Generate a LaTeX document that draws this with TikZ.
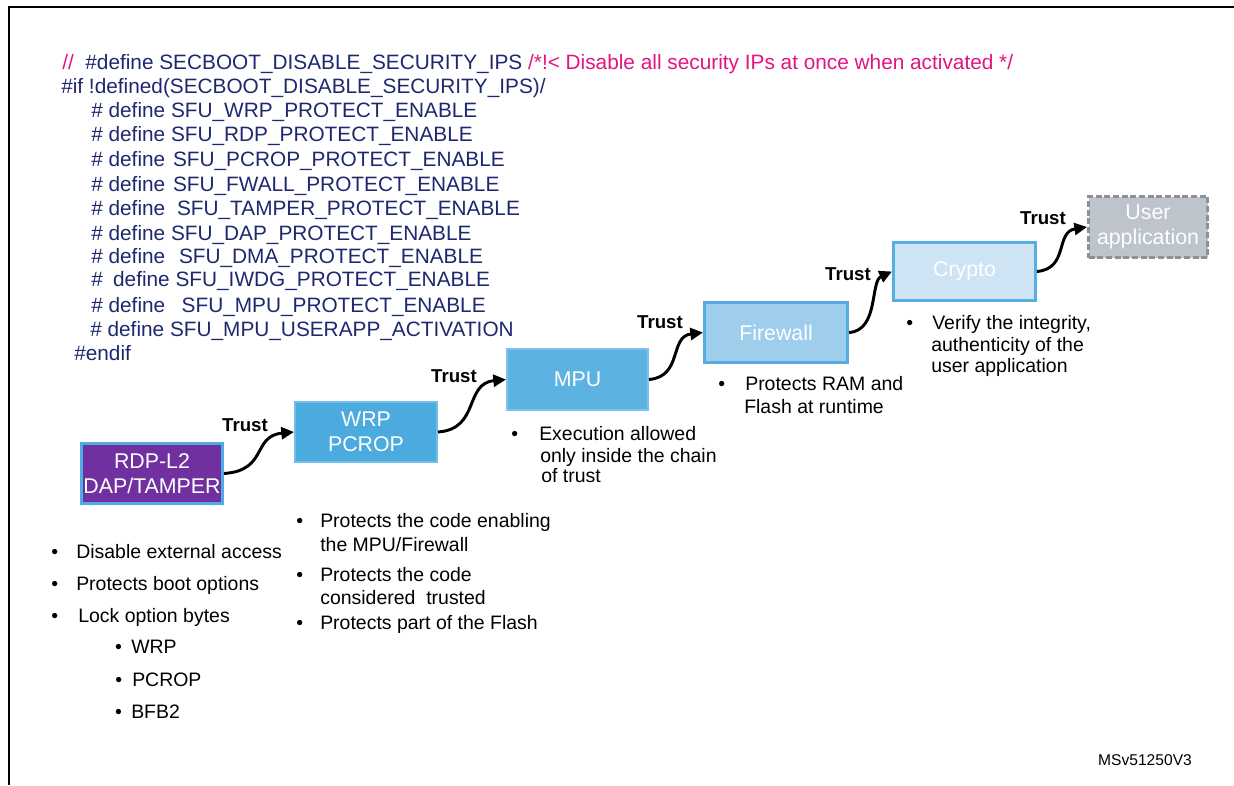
\documentclass[tikz,border=0pt]{standalone}
\usepackage{fontspec}
\setmainfont{Liberation Sans}
\usetikzlibrary{arrows.meta}

\definecolor{codeblue}{RGB}{30,40,110}
\definecolor{cmtpink}{RGB}{225,20,130}
\definecolor{rdpfill}{RGB}{112,48,160}
\definecolor{rdpedge}{RGB}{79,173,226}
\definecolor{wrpfill}{RGB}{75,170,222}
\definecolor{wrpedge}{RGB}{112,190,234}
\definecolor{mpufill}{RGB}{92,178,225}
\definecolor{mpuedge}{RGB}{122,196,236}
\definecolor{fwfill}{RGB}{158,206,236}
\definecolor{fwedge}{RGB}{85,172,224}
\definecolor{cryfill}{RGB}{206,227,244}
\definecolor{cryedge}{RGB}{85,175,228}
\definecolor{appfill}{RGB}{190,196,203}
\definecolor{appedge}{RGB}{140,145,150}

\newcommand\codesize{\fontsize{15.6pt}{18pt}\selectfont}
\newcommand\notesize{\fontsize{14.6pt}{17pt}\selectfont}
\newcommand\trustsize{\fontsize{14pt}{16pt}\selectfont\bfseries}
\newcommand\boxsize{\fontsize{16pt}{18.75pt}\selectfont}
\newcommand\refsize{\fontsize{11.7pt}{14pt}\selectfont}
\newcommand\bul[2]{\llap{\textbullet\hspace*{#1}}#2}

\tikzset{
  code/.style={anchor=base west, inner sep=0pt, text=codeblue, font=\codesize},
  note/.style={anchor=base west, inner sep=0pt, text=black, font=\notesize},
  trust/.style={inner sep=0pt, font=\trustsize},
  stage/.style={rectangle, inner sep=0pt, text=white, align=center, font=\boxsize},
  link/.style={draw=black, line width=2.2pt, -{Triangle[length=9.5pt,width=9pt]}},
}

\begin{document}
\begin{tikzpicture}[x=0.75pt, y=-0.75pt]
\useasboundingbox (0,0) rectangle (1234,785);

% frame
\draw[line width=1.5pt] (8.5,785) -- (8.5,7) -- (1234,7);

% configuration switches
\node[code] (c1) at (62,69.5) {\textcolor{cmtpink}{//}\ \ \#define SECBOOT\_DISABLE\_SECURITY\_IPS \textcolor{cmtpink}{/*!< Disable all security IPs at once when activated */}};
\node[code] (c2) at (61,93.5) {\#if !defined(SECBOOT\_DISABLE\_SECURITY\_IPS)/};
\node[code] (c3) at (91,117.5) {\# define SFU\_WRP\_PROTECT\_ENABLE};
\node[code] (c4) at (91,141.5) {\# define SFU\_RDP\_PROTECT\_ENABLE};
\node[code] (c5) at (91,166.5) {\# define\hspace*{1.5pt} SFU\_PCROP\_PROTECT\_ENABLE};
\node[code] (c6) at (91,191.5) {\# define\hspace*{1.5pt} SFU\_FWALL\_PROTECT\_ENABLE};
\node[code] (c7) at (91,215.5) {\# define\hspace*{4.5pt} SFU\_TAMPER\_PROTECT\_ENABLE};
\node[code] (c8) at (91,240.5) {\# define SFU\_DAP\_PROTECT\_ENABLE};
\node[code] (c9) at (91,263.5) {\# define\hspace*{6pt} SFU\_DMA\_PROTECT\_ENABLE};
\node[code] (c10) at (91,286.5) {\#\hspace*{3.4pt} define SFU\_IWDG\_PROTECT\_ENABLE};
\node[code] (c11) at (91,312.5) {\# define\hspace*{8pt} SFU\_MPU\_PROTECT\_ENABLE};
\node[code] (c12) at (90,336.5) {\# define SFU\_MPU\_USERAPP\_ACTIVATION};
\node[code] (c13) at (74,360.5) {\#endif};

% chain of trust stages
\node[stage, fill=rdpfill, draw=rdpedge, line width=2.25pt, minimum width=105.75pt, minimum height=45pt] (rdp) at (152,473.5) {RDP-L2\\DAP/TAMPER};
\node[stage, fill=wrpfill, draw=wrpedge, line width=1.5pt, minimum width=106.5pt, minimum height=45pt] (wrp) at (366,432) {WRP\\PCROP};
\node[stage, fill=mpufill, draw=mpuedge, line width=1.5pt, minimum width=105.75pt, minimum height=45.75pt] (mpu) at (577.5,379.5) {MPU};
\node[stage, fill=fwfill, draw=fwedge, line width=2.25pt, minimum width=107.25pt, minimum height=45pt] (fw) at (776,332.5) {Firewall};
\node[stage, fill=cryfill, draw=cryedge, line width=2.25pt, minimum width=106.5pt, minimum height=43.5pt] (cry) at (964.5,271.5) {Crypto};
\node[stage, fill=appfill, draw=appedge, line width=2.25pt, dash pattern=on 4.5pt off 2pt, minimum width=89.25pt, minimum height=45.75pt] (app) at (1148,227) {User\\application};

% trust links
\draw[link] (rdp.east) .. controls +(44,-3) and +(-42,4) .. (wrp.west);
\draw[link] (wrp.east) .. controls +(42,-3) and +(-42,4) .. (mpu.west);
\draw[link] (mpu.east) .. controls +(34,-3) and +(-34,4) .. (fw.west);
\draw[link] (fw.east) .. controls +(30,-2) and +(-22,10) .. (cry.west);
\draw[link] (cry.east) .. controls +(32,-3) and +(-32,5) .. (app.west);

\node[trust] (t1) at (245,425) {Trust};
\node[trust] (t2) at (454,376) {Trust};
\node[trust] (t3) at (660,322) {Trust};
\node[trust] (t4) at (848,274) {Trust};
\node[trust] (t5) at (1043,218) {Trust};

% notes under RDP-L2
\node[note] (n1) at (76,558) {\bul{13.5pt}{Disable external access}};
\node[note] (n2) at (76,590) {\bul{13.5pt}{Protects boot options}};
\node[note] (n3) at (78,622) {\bul{15pt}{Lock option bytes}};
\node[note] (n4) at (131,653) {\bul{7pt}{WRP}};
\node[note] (n5) at (132,686) {\bul{7.5pt}{PCROP}};
\node[note] (n6) at (131,718) {\bul{7pt}{BFB2}};

% notes under WRP/PCROP
\node[note] (w1) at (320,527) {\bul{12.75pt}{Protects the code enabling}};
\node[note] (w2) at (320,551) {the MPU/Firewall};
\node[note] (w3) at (320,581) {\bul{12.75pt}{Protects the code}};
\node[note] (w4) at (320,604) {considered\ \ trusted};
\node[note] (w5) at (320,629) {\bul{12.75pt}{Protects part of the Flash}};

% notes under MPU
\node[note] (m1) at (539,440) {\bul{15.75pt}{Execution allowed}};
\node[note] (m2) at (540,462) {only inside the chain};
\node[note] (m3) at (541,482) {of trust};

% notes under Firewall
\node[note] (f1) at (745,390) {\bul{15pt}{Protects RAM and}};
\node[note] (f2) at (744,413) {Flash at runtime};

% notes under Crypto
\node[note] (k1) at (932,329) {\bul{14.25pt}{Verify the integrity,}};
\node[note] (k2) at (931,351) {authenticity of the};
\node[note] (k3) at (931,372) {user application};

\node[inner sep=0pt, font=\refsize] (ref) at (1145,760) {MSv51250V3};
\end{tikzpicture}
\end{document}
